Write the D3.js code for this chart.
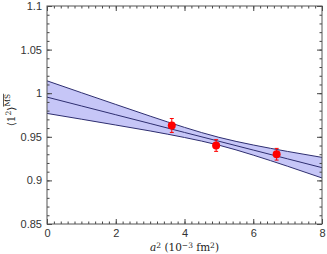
<!DOCTYPE html>
<html lang="en">
<head>
<meta charset="UTF-8">
<title>Chart</title>
<script src="https://d3js.org/d3.v7.js"></script>
<style>
body { margin: 0; background: #fff; }
svg { display: block; }
.tick text { font-family: "Liberation Sans", Helvetica, sans-serif; font-size: 11px; fill: #333; }
.tick line { stroke: #444; }
.lab { font-family: "DejaVu Serif", "Liberation Serif", serif; font-size: 10.5px; fill: #222; }
</style>
</head>
<body>
<svg id="chart" width="327" height="254"></svg>
<script>
// data points
const a2 = [3.63, 4.92, 6.68];
const ms = [0.963, 0.940, 0.930];
const msErr = [0.008, 0.0067, 0.0067];

// fit band
const bandX = [0, 1, 2, 3, 4, 5, 6, 7, 8];
const bandMid = [0.9955, 0.9854, 0.9753, 0.9652, 0.9550, 0.9449, 0.9348, 0.9247, 0.9146];
const bandHi = [1.0142, 1.0006, 0.9871, 0.9737, 0.9608, 0.9494, 0.9406, 0.9332, 0.9264];
const bandLo = [0.9768, 0.9702, 0.9635, 0.9567, 0.9492, 0.9404, 0.9290, 0.9162, 0.9028];

const xTicks = [0, 2, 4, 6, 8];
const yTicks = [0.85, 0.9, 0.95, 1, 1.05, 1.1];

const svg = d3.select("#chart");
const mLeft = 47, mRight = 322, mTop = 6, mBottom = 224;

const x = d3.scaleLinear().domain([0, 8]).range([mLeft, mRight]);
const y = d3.scaleLinear().domain([0.85, 1.1]).range([mBottom, mTop]);

// band
const band = bandX.map((d, i) => ({x: d, mid: bandMid[i], hi: bandHi[i], lo: bandLo[i]}));
const curve = d3.curveNatural;
svg.append("path")
    .datum(band)
    .attr("fill", "#c6c6f7")
    .attr("d", d3.area().x(d => x(d.x)).y0(d => y(d.lo)).y1(d => y(d.hi)).curve(curve));
["hi", "mid", "lo"].forEach(k => {
    svg.append("path")
        .datum(band)
        .attr("fill", "none")
        .attr("stroke", "#2e2e70")
        .attr("stroke-width", 1)
        .attr("d", d3.line().x(d => x(d.x)).y(d => y(d[k])).curve(curve));
});

// points with error bars
const pts = a2.map((d, i) => ({x: d, y: ms[i], e: msErr[i]}));
const g = svg.append("g");
g.selectAll("line.eb").data(pts).join("line")
    .attr("x1", d => x(d.x)).attr("x2", d => x(d.x))
    .attr("y1", d => y(d.y - d.e)).attr("y2", d => y(d.y + d.e))
    .attr("stroke", "#f00").attr("stroke-width", 1);
[-1, 1].forEach(s => {
    g.selectAll(null).data(pts).join("line")
        .attr("x1", d => x(d.x) - 2).attr("x2", d => x(d.x) + 2)
        .attr("y1", d => y(d.y + s * d.e)).attr("y2", d => y(d.y + s * d.e))
        .attr("stroke", "#f00").attr("stroke-width", 1);
});
g.selectAll("circle").data(pts).join("circle")
    .attr("cx", d => x(d.x)).attr("cy", d => y(d.y)).attr("r", 4)
    .attr("fill", "#f00");

// axes, ticks inward on all four sides
const fmtY = d => String(+d.toFixed(2));
const xMinor = d3.range(0, 8.001, 0.2);
const yMinor = d3.range(0.85, 1.1001, 0.01);

function addAxis(make, tr, major, minor, fmt) {
    svg.append("g").attr("transform", tr)
        .call(make().tickValues(minor).tickSize(-2.5).tickFormat(""))
        .call(a => a.select(".domain").remove());
    svg.append("g").attr("transform", tr)
        .call(make().tickValues(major).tickSize(-5).tickPadding(5).tickFormat(fmt))
        .call(a => a.select(".domain").remove());
}
addAxis(() => d3.axisBottom(x), `translate(0,${mBottom})`, xTicks, xMinor, d3.format("d"));
addAxis(() => d3.axisTop(x), `translate(0,${mTop})`, xTicks, xMinor, () => "");
addAxis(() => d3.axisLeft(y), `translate(${mLeft},0)`, yTicks, yMinor, fmtY);
addAxis(() => d3.axisRight(y), `translate(${mRight},0)`, yTicks, yMinor, () => "");

svg.append("rect")
    .attr("x", mLeft).attr("y", mTop)
    .attr("width", mRight - mLeft).attr("height", mBottom - mTop)
    .attr("fill", "none").attr("stroke", "#555").attr("stroke-width", 1);

// axis labels
const xl = svg.append("text").attr("class", "lab")
    .attr("x", (mLeft + mRight) / 2).attr("y", 251).attr("text-anchor", "middle");
xl.append("tspan").attr("font-style", "italic").text("a");
xl.append("tspan").attr("dy", -3.5).attr("font-size", 7.5).text("2");
xl.append("tspan").attr("dy", 3.5).text(" (10");
xl.append("tspan").attr("dy", -3.5).attr("font-size", 7.5).text("−3");
xl.append("tspan").attr("dy", 3.5).text(" fm");
xl.append("tspan").attr("dy", -3.5).attr("font-size", 7.5).text("2");
xl.append("tspan").attr("dy", 3.5).text(")");

const yl = svg.append("text").attr("class", "lab")
    .attr("transform", `translate(15,${(mTop + mBottom) / 2 - 5}) rotate(-90)`)
    .attr("text-anchor", "middle");
yl.append("tspan").text("⟨1");
yl.append("tspan").attr("dy", -4).attr("font-size", 7.5).text("2");
yl.append("tspan").attr("dy", 4).text("⟩");
yl.append("tspan").attr("dy", -5).attr("font-size", 7.5)
    .attr("text-decoration", "overline").text("MS");
</script>
</body>
</html>
